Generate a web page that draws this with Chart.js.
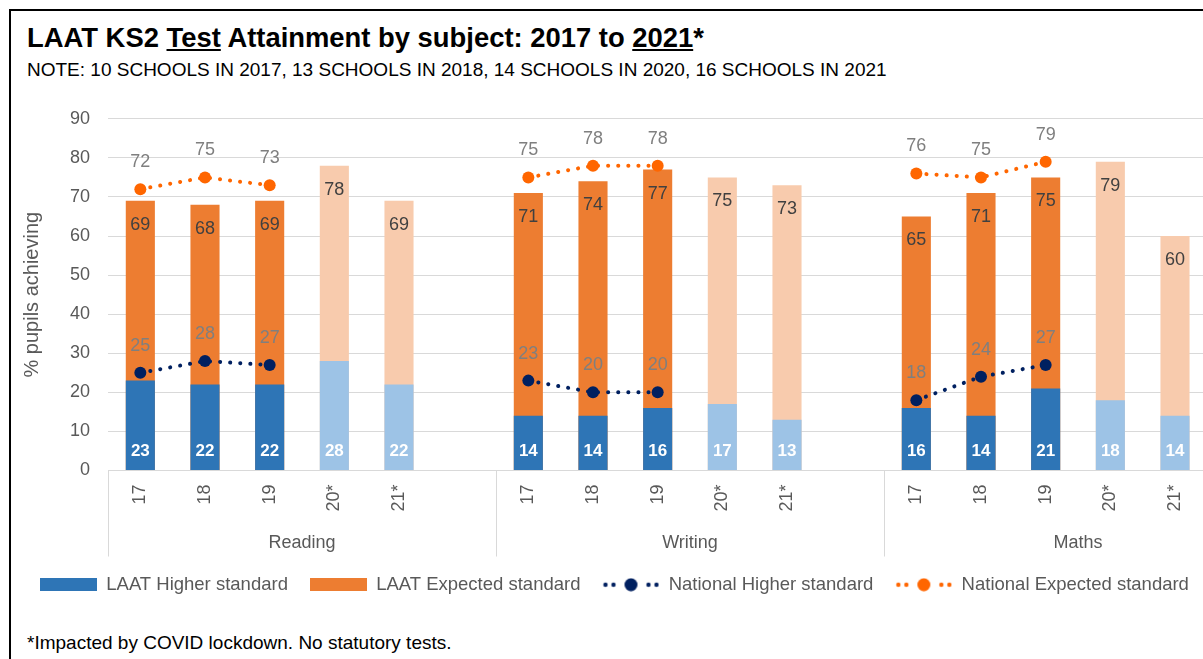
<!DOCTYPE html>
<html>
<head>
<meta charset="utf-8">
<script src="https://cdn.jsdelivr.net/npm/chart.js@4.4.1/dist/chart.umd.min.js"></script>
<style>
body { margin:0; width:1203px; height:659px; overflow:hidden; background:#fff; font-family:"Liberation Sans", Arial, sans-serif; position:relative; }
#frame { position:absolute; left:9px; top:9px; width:1300px; height:700px; border-top:2px solid #000; border-left:2px solid #000; }
#title { position:absolute; left:27px; top:24px; font-size:27.4px; line-height:27px; font-weight:bold; color:#000; white-space:nowrap; }
#note { position:absolute; left:27px; top:60px; font-size:19px; line-height:19px; color:#000; white-space:nowrap; }
#foot { position:absolute; left:27px; top:633px; font-size:19px; line-height:19px; color:#000; white-space:nowrap; }
#wrap { position:absolute; left:12px; top:90px; width:1266px; height:514px; }
</style>
</head>
<body>
<div id="frame"></div>
<div id="title">LAAT KS2 <u>Test</u> Attainment by subject: 2017 to <u>2021</u>*</div>
<div id="note">NOTE: 10 SCHOOLS IN 2017, 13 SCHOOLS IN 2018, 14 SCHOOLS IN 2020, 16 SCHOOLS IN 2021</div>
<div id="wrap"><canvas id="chart"></canvas></div>
<div id="foot">*Impacted by COVID lockdown. No statutory tests.</div>
<script>
const years = ['17', '18', '19', '20*', '21*', ''];
const subjects = ['Reading', 'Writing', 'Maths'];

const readingHigher = [23, 22, 22, 28, 22, null];
const readingExpected = [69, 68, 69, 78, 69, null];
const readingNatHigher = [25, 28, 27, null, null, null];
const readingNatExpected = [72, 75, 73, null, null, null];

const writingHigher = [14, 14, 16, 17, 13, null];
const writingExpected = [71, 74, 77, 75, 73, null];
const writingNatHigher = [23, 20, 20, null, null, null];
const writingNatExpected = [75, 78, 78, null, null, null];

const mathsHigher = [16, 14, 21, 18, 14, null];
const mathsExpected = [65, 71, 75, 79, 60, null];
const mathsNatHigher = [18, 24, 27, null, null, null];
const mathsNatExpected = [76, 75, 79, null, null, null];

const yTicks = [0, 10, 20, 30, 40, 50, 60, 70, 80, 90];

// flatten the groups into one category axis
const labels = subjects.flatMap(() => years);
const higherData = [...readingHigher, ...writingHigher, ...mathsHigher];
const expectedData = [...readingExpected, ...writingExpected, ...mathsExpected];
const natHigherData = [...readingNatHigher, ...writingNatHigher, ...mathsNatHigher];
const natExpectedData = [...readingNatExpected, ...writingNatExpected, ...mathsNatExpected];

const FONT = '"Liberation Sans", Arial, sans-serif';
const GREY = '#595959';

function isCovid(i) {
    return years[i % years.length].includes('*');
}

function boxIcon(color) {
    let c = document.createElement('canvas');
    c.width = 57; c.height = 13;
    let g = c.getContext('2d');
    g.fillStyle = color;
    g.fillRect(0, 0, 57, 13);
    return c;
}

function lineIcon(color) {
    let c = document.createElement('canvas');
    c.width = 57; c.height = 14;
    let g = c.getContext('2d');
    g.fillStyle = color;
    [3, 11, 46, 54].forEach(x => {
        g.beginPath(); g.arc(x, 7, 2.2, 0, Math.PI * 2); g.fill();
    });
    g.beginPath(); g.arc(28.5, 7, 6.5, 0, Math.PI * 2); g.fill();
    return c;
}

const legendIcons = [boxIcon('#2E75B6'), boxIcon('#ED7D31'), lineIcon('#002060'), lineIcon('#FF6600')];

const labelPlugin = {
    id: 'valueLabels',
    afterDatasetsDraw(chart) {
        const ctx = chart.ctx;
        ctx.save();
        ctx.textAlign = 'center';
        ctx.textBaseline = 'middle';

        chart.getDatasetMeta(1).data.forEach((bar, i) => {
            if (expectedData[i] == null) return;
            ctx.font = '18px ' + FONT;
            ctx.fillStyle = '#404040';
            ctx.fillText(expectedData[i], bar.x, bar.y + 24);
        });
        chart.getDatasetMeta(0).data.forEach((bar, i) => {
            if (higherData[i] == null) return;
            ctx.font = 'bold 17px ' + FONT;
            ctx.fillStyle = '#ffffff';
            ctx.fillText(higherData[i], bar.x, bar.base - 19);
        });
        [[2, natHigherData], [3, natExpectedData]].forEach(([idx, data]) => {
            chart.getDatasetMeta(idx).data.forEach((pt, i) => {
                if (data[i] == null) return;
                ctx.font = '18px ' + FONT;
                ctx.fillStyle = '#7f7f7f';
                ctx.fillText(data[i], pt.x, pt.y - 27);
            });
        });
        ctx.restore();
    },
    afterDraw(chart) {
        const ctx = chart.ctx;
        const x = chart.scales.x;
        const bottom = chart.chartArea.bottom;
        const catW = x.width / labels.length;
        ctx.save();
        ctx.strokeStyle = '#d9d9d9';
        ctx.lineWidth = 1;
        for (let g = 0; g <= subjects.length; g++) {
            let px = Math.round(x.left + g * years.length * catW) + 0.5;
            ctx.beginPath();
            ctx.moveTo(px, bottom);
            ctx.lineTo(px, bottom + 86);
            ctx.stroke();
        }
        ctx.font = '18px ' + FONT;
        ctx.fillStyle = GREY;
        ctx.textAlign = 'center';
        ctx.textBaseline = 'middle';
        subjects.forEach((s, g) => {
            let cx = x.left + (g + 0.5) * years.length * catW;
            ctx.fillText(s, cx, bottom + 73);
        });
        ctx.restore();
    }
};

new Chart('chart', {
    type: 'bar',
    data: {
        labels: labels,
        datasets: [
            {
                label: 'LAAT Higher standard',
                data: higherData,
                backgroundColor: ctx => isCovid(ctx.dataIndex) ? '#9DC3E6' : '#2E75B6',
                grouped: false,
                categoryPercentage: 1,
                barPercentage: 0.45,
                order: 2
            },
            {
                label: 'LAAT Expected standard',
                data: expectedData,
                backgroundColor: ctx => isCovid(ctx.dataIndex) ? '#F8CBAD' : '#ED7D31',
                grouped: false,
                categoryPercentage: 1,
                barPercentage: 0.45,
                order: 3
            },
            {
                type: 'line',
                label: 'National Higher standard',
                data: natHigherData,
                borderColor: '#002060',
                backgroundColor: '#002060',
                borderWidth: 4,
                borderDash: [0.1, 10],
                borderCapStyle: 'round',
                pointRadius: 6,
                pointBorderWidth: 0,
                spanGaps: false,
                order: 1
            },
            {
                type: 'line',
                label: 'National Expected standard',
                data: natExpectedData,
                borderColor: '#FF6600',
                backgroundColor: '#FF6600',
                borderWidth: 4,
                borderDash: [0.1, 10],
                borderCapStyle: 'round',
                pointRadius: 6,
                pointBorderWidth: 0,
                spanGaps: false,
                order: 0
            }
        ]
    },
    options: {
        responsive: true,
        maintainAspectRatio: false,
        animation: false,
        layout: { padding: { top: 9, left: 6, right: 0, bottom: 0 } },
        plugins: {
            tooltip: { enabled: false },
            legend: {
                position: 'bottom',
                align: 'start',
                labels: {
                    usePointStyle: true,
                    pointStyleWidth: 57,
                    padding: 22,
                    color: GREY,
                    font: { family: FONT, size: 18.5 },
                    generateLabels: chart => {
                        let items = Chart.defaults.plugins.legend.labels.generateLabels(chart);
                        items.forEach(it => { it.pointStyle = legendIcons[it.datasetIndex]; });
                        return items;
                    },
                    sort: (a, b) => a.datasetIndex - b.datasetIndex
                }
            }
        },
        scales: {
            x: {
                offset: true,
                grid: { display: false },
                border: { color: '#d9d9d9' },
                ticks: {
                    autoSkip: false,
                    maxRotation: 90,
                    minRotation: 90,
                    padding: 6,
                    color: GREY,
                    font: { family: FONT, size: 18 }
                },
                afterFit: scale => { scale.height = 83; }
            },
            y: {
                min: 0,
                max: 90,
                afterBuildTicks: scale => { scale.ticks = yTicks.map(v => ({ value: v })); },
                grid: { color: '#d9d9d9', drawTicks: false },
                border: { display: false },
                ticks: {
                    padding: 18,
                    color: GREY,
                    font: { family: FONT, size: 18 }
                },
                title: {
                    display: true,
                    text: '% pupils achieving',
                    color: GREY,
                    font: { family: FONT, size: 20 },
                    padding: { top: 2, bottom: 0 }
                },
                afterFit: scale => { scale.width = 90; }
            }
        }
    },
    plugins: [labelPlugin]
});
</script>
</body>
</html>
